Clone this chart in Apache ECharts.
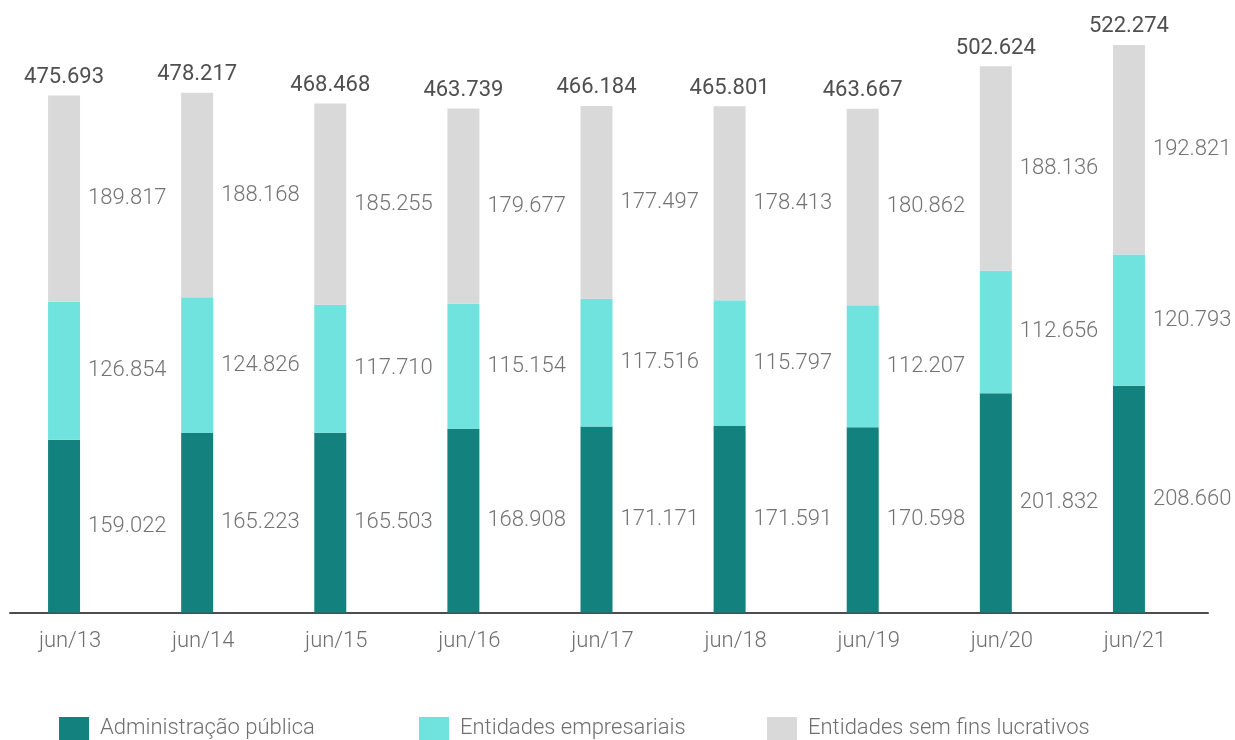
<!DOCTYPE html>
<html>
<head>
<meta charset="utf-8">
<script src="https://cdn.jsdelivr.net/npm/echarts@6/dist/echarts.min.js"></script>
<style>
html,body{margin:0;padding:0;background:#fff;}
#chart{width:1235px;height:740px;}
</style>
</head>
<body>
<div id="chart"></div>
<script>
const categories = ['jun/13','jun/14','jun/15','jun/16','jun/17','jun/18','jun/19','jun/20','jun/21'];
const seriesNames = ['Administração pública','Entidades empresariais','Entidades sem fins lucrativos'];
const adminPublica = [159022,165223,165503,168908,171171,171591,170598,201832,208660];
const entEmpresariais = [126854,124826,117710,115154,117516,115797,112207,112656,120793];
const entSemFins = [189817,188168,185255,179677,177497,178413,180862,188136,192821];
const colors = ['#13827F','#71E3DE','#D9D9D9'];

const totals = categories.map((c,i)=>adminPublica[i]+entEmpresariais[i]+entSemFins[i]);
const fmt = v => String(v).replace(/\B(?=(\d{3})+(?!\d))/g,'.');

const FONT = 'Roboto';
const valueLabel = {
  show:true, position:'right', distance:8,
  color:'#737373', fontSize:22, fontWeight:300, fontFamily:FONT,
  formatter:p=>fmt(p.value)
};

function stackSeries(name, data, color){
  return {
    name, type:'bar', stack:'total', data, barWidth:32,
    itemStyle:{color}, label:valueLabel,
    emphasis:{disabled:true}
  };
}

const chart = echarts.init(document.getElementById('chart'), null, {renderer:'canvas'});
chart.setOption({
  animation:false,
  backgroundColor:'#ffffff',
  grid:{left:10, right:27, top:4, bottom:127.5, containLabel:false},
  xAxis:{
    type:'category', data:categories, boundaryGap:true,
    axisLine:{show:true, lineStyle:{color:'#4d4d4d', width:2}},
    axisTick:{show:false},
    axisLabel:{color:'#6f6f6f', fontSize:22, fontWeight:300, fontFamily:FONT, margin:18, padding:[0,13,0,0]}
  },
  yAxis:{type:'value', min:0, max:560000, show:false, splitLine:{show:false}},
  legend:[
    {data:[seriesNames[0]], left:54, top:712},
    {data:[seriesNames[1]], left:414, top:712},
    {data:[seriesNames[2]], left:762, top:712}
  ].map(l=>Object.assign(l,{
    itemWidth:30, itemHeight:23, itemGap:11, selectedMode:false, icon:'rect',
    textStyle:{color:'#6f6f6f', fontSize:22, fontWeight:300, fontFamily:FONT, padding:[0,0,0,6]}
  })),
  series:[
    stackSeries(seriesNames[0], adminPublica, colors[0]),
    stackSeries(seriesNames[1], entEmpresariais, colors[1]),
    stackSeries(seriesNames[2], entSemFins, colors[2]),
    {
      name:'Total', type:'bar', stack:'total', barWidth:32,
      data:totals.map(()=>0),
      itemStyle:{color:'transparent'},
      label:{show:true, position:'top', distance:7, color:'#4f4f4f', fontSize:22, fontWeight:400, fontFamily:FONT,
        formatter:p=>fmt(totals[p.dataIndex])},
      emphasis:{disabled:true}, silent:true
    },
    {
      name:'offset', type:'bar', barWidth:25, barGap:0,
      data:totals.map(()=>0),
      itemStyle:{color:'transparent'}, silent:true, label:{show:false}
    }
  ]
});
</script>
</body>
</html>
